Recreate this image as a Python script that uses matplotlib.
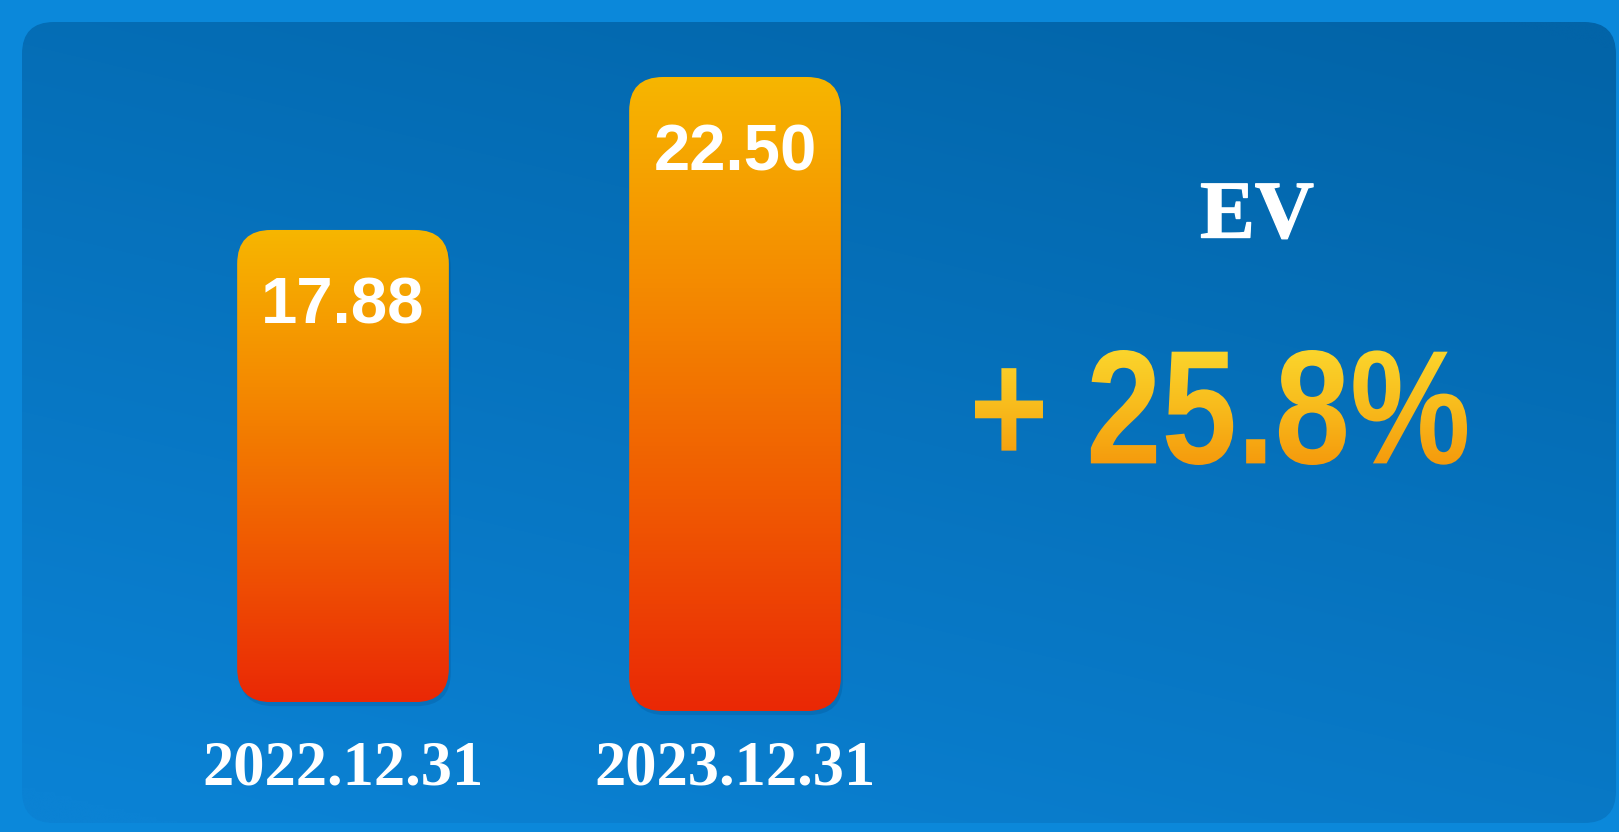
"""EV growth card: two rounded gradient bars plus a headline change."""

import numpy as np
import matplotlib
matplotlib.use("Agg")
import matplotlib.pyplot as plt
import matplotlib.patheffects as pe
from matplotlib.patches import FancyBboxPatch, PathPatch
from matplotlib.textpath import TextPath
from matplotlib.font_manager import FontProperties, findfont
from matplotlib.colors import LinearSegmentedColormap, to_rgb
from matplotlib.transforms import Affine2D, blended_transform_factory

# Data
categories = ["2022.12.31", "2023.12.31"]
values = [17.88, 22.50]
bar_bottoms = [3.62, 3.35]
metric = "EV"
change_label = "+ 25.8%"

W, H = 1619, 832


def pick_font(family, weight, fallback):
    fp = FontProperties(family=family, weight=weight)
    try:
        findfont(fp, fallback_to_default=False)
        return fp
    except ValueError:
        return FontProperties(family=fallback, weight=weight)


fig = plt.figure(figsize=(W / 100, H / 100), dpi=100)
fig.patch.set_facecolor("#0b88da")

# Background axes in pixel units (y up)
bg = fig.add_axes([0, 0, 1, 1])
bg.set_xlim(0, W)
bg.set_ylim(0, H)
bg.set_autoscale_on(False)
bg.axis("off")

# Inner rounded panel with soft gradient
panel = FancyBboxPatch((22, 9), W - 25, 801,
                       boxstyle="round,pad=0,rounding_size=32",
                       facecolor="none", edgecolor="none")
bg.add_patch(panel)
yy, xx = np.mgrid[0:1:200j, 0:1:400j]
d = np.clip(0.75 * yy + 0.35 * xx - 0.05, 0, 1)[..., None]
light = np.array(to_rgb("#0b82d4"))
dark = np.array(to_rgb("#0264a8"))
grad = light * (1 - d) + dark * d
im = bg.imshow(grad, extent=(0, W, 0, H), origin="lower", aspect="auto",
               interpolation="bicubic", zorder=0.5)
im.set_clip_path(panel)

# Bar axes in value units
ax = fig.add_axes([0, 0, 1, 1], facecolor="none")
ax.set_xlim(-0.875, 3.255)
ax.set_ylim(-0.302, 24.825)
ax.axis("off")

x = np.arange(len(categories))
heights = np.array(values) - np.array(bar_bottoms)
bars = ax.bar(x, heights, bottom=bar_bottoms, width=0.54)

bar_cmap = LinearSegmentedColormap.from_list(
    "bar", ["#ea2806", "#f05a02", "#f48a00", "#f7b600"])
for rect in bars:
    rect.set_visible(False)
    (x0, y0) = ax.transData.transform((rect.get_x(), rect.get_y()))
    (x1, y1) = ax.transData.transform((rect.get_x() + rect.get_width(),
                                       rect.get_y() + rect.get_height()))
    shadow = FancyBboxPatch((x0 + 2, y0 - 4), x1 - x0, y1 - y0,
                            boxstyle="round,pad=0,rounding_size=34",
                            facecolor="#003a70", alpha=0.18, edgecolor="none",
                            zorder=1)
    bg.add_patch(shadow)
    shape = FancyBboxPatch((x0, y0), x1 - x0, y1 - y0,
                           boxstyle="round,pad=0,rounding_size=34",
                           facecolor="none", edgecolor="none")
    bg.add_patch(shape)
    g = np.linspace(0, 1, 256)[:, None]
    bim = bg.imshow(g, cmap=bar_cmap, extent=(x0, x1, y0, y1), origin="lower",
                    aspect="auto", interpolation="bicubic", zorder=2)
    bim.set_clip_path(shape)

# Value labels inside bars
sans_bold = pick_font("Liberation Sans", "bold", "DejaVu Sans")
for xi, v in zip(x, values):
    ax.annotate(f"{v:.2f}", (xi, v), xytext=(0, -55), textcoords="offset points",
                ha="center", va="center", color="white", fontsize=47,
                fontproperties=sans_bold)

# Category labels
serif_bold = pick_font("Liberation Serif", "bold", "DejaVu Serif")
trans = blended_transform_factory(ax.transData, ax.transAxes)
for xi, cat in zip(x, categories):
    ax.text(xi, 0.075, cat, transform=trans, ha="center", va="center",
            color="white", fontproperties=serif_bold, fontsize=45)

# Metric title (slightly heavier serif)
fig.text(1257 / W, 1 - 218 / H, metric, ha="center", va="center",
         color="white", fontproperties=serif_bold, fontsize=59,
         path_effects=[pe.withStroke(linewidth=1.0, foreground="white")])

# Headline change with gradient fill
narrow = pick_font("Liberation Sans Narrow", "bold", "Liberation Sans")
tp = TextPath((0, 0), change_label, size=160, prop=narrow)
ext = tp.get_extents()
tx0, ty0, tw, th = 975, H - 465, 492, 115
tr = (Affine2D().translate(-ext.x0, -ext.y0)
      .scale(tw / ext.width, th / ext.height).translate(tx0, ty0))
txt_patch = PathPatch(tp, transform=tr + bg.transData,
                      facecolor="none", edgecolor="none")
bg.add_patch(txt_patch)
txt_cmap = LinearSegmentedColormap.from_list("txt", ["#f59a0c", "#f8bb1c", "#fbd52c"])
g = np.linspace(0, 1, 256)[:, None]
tim = bg.imshow(g, cmap=txt_cmap, extent=(tx0, tx0 + tw, ty0, ty0 + th),
                origin="lower", aspect="auto", interpolation="bicubic", zorder=2)
tim.set_clip_path(txt_patch)

fig.savefig("out.png", dpi=100)
